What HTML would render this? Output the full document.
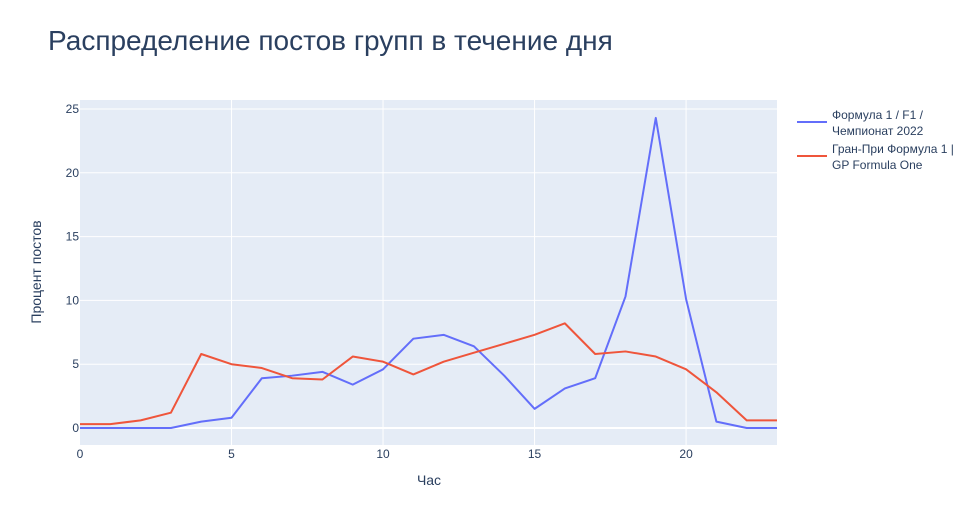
<!DOCTYPE html>
<html><head><meta charset="utf-8"><style>
body{margin:0;background:#fff;font-family:"Liberation Sans",Arial,sans-serif;}
svg text{font-family:"Liberation Sans",Arial,sans-serif;}
</style></head><body>
<svg id="chart" width="971" height="525">
<rect width="971" height="525" fill="#fff"/>
<text x="48" y="50" font-size="28" fill="#2a3f5f">Распределение постов групп в течение дня</text>
<rect x="80" y="100" width="697" height="345" fill="#e5ecf6"/>
<g id="grid"></g>
<g id="series"></g>
<text x="429" y="485" font-size="14" fill="#2a3f5f" text-anchor="middle">Час</text>
<text transform="translate(41,272) rotate(-90)" font-size="14" fill="#2a3f5f" text-anchor="middle">Процент постов</text>
<g>
<g>
<line x1="797" y1="122" x2="827" y2="122" stroke="#636efa" stroke-width="2"/>
<text x="832" y="119" font-size="12" fill="#2a3f5f">Формула 1 / F1 /</text>
<text x="832" y="135" font-size="12" fill="#2a3f5f">Чемпионат 2022</text>
</g>
<g>
<line x1="797" y1="156" x2="827" y2="156" stroke="#ef553b" stroke-width="2"/>
<text x="832" y="153" font-size="12" fill="#2a3f5f">Гран-При Формула 1 |</text>
<text x="832" y="169" font-size="12" fill="#2a3f5f">GP Formula One</text>
</g>
</g>
</svg>
<script>
const hours=[0,1,2,3,4,5,6,7,8,9,10,11,12,13,14,15,16,17,18,19,20,21,22,23];
const seriesF1=[0,0,0,0,0.5,0.8,3.9,4.1,4.4,3.4,4.6,7.0,7.3,6.4,4.1,1.5,3.1,3.9,10.3,24.3,10.1,0.5,0,0];
const seriesGP=[0.3,0.3,0.6,1.2,5.8,5.0,4.7,3.9,3.8,5.6,5.2,4.2,5.2,5.9,6.6,7.3,8.2,5.8,6.0,5.6,4.6,2.8,0.6,0.6];
const xTicks=[0,5,10,15,20];
const yTicks=[0,5,10,15,20,25];
const NS="http://www.w3.org/2000/svg";
const xs=v=>80+v*(697/23);
const ys=v=>428-v*(319/25);
const grid=document.getElementById('grid');
function mk(tag,attrs,parent){const e=document.createElementNS(NS,tag);for(const k in attrs)e.setAttribute(k,attrs[k]);parent.appendChild(e);return e;}
xTicks.forEach(t=>{
 const l=mk('line',{x1:xs(t),x2:xs(t),y1:100,y2:445,stroke:'#fff','stroke-width':t===0?0:1},grid);
 
 
 const tx=mk('text',{x:xs(t),y:458,'font-size':12,fill:'#2a3f5f','text-anchor':'middle'},grid);
 tx.textContent=t;
 
 
});
yTicks.forEach(t=>{
 const l=mk('line',{x1:80,x2:777,y1:ys(t),y2:ys(t),stroke:'#fff','stroke-width':t===0?2:1},grid);
 
 
 const tx=mk('text',{x:79-0,y:ys(t)+4,'font-size':12,fill:'#2a3f5f','text-anchor':'end'},grid);
 tx.setAttribute('x',79);
 tx.textContent=t;
 
 
});
const sg=document.getElementById('series');
[[seriesF1,'#636efa','line-f1-2022'],[seriesGP,'#ef553b','line-gp-formula-one']].forEach(([d,c,n])=>{
 const p=mk('polyline',{points:d.map((v,i)=>xs(hours[i])+','+ys(v)).join(' '),fill:'none',stroke:c,'stroke-width':2,'stroke-linejoin':'round'},sg);
 
 
});
</script>
</body></html>
